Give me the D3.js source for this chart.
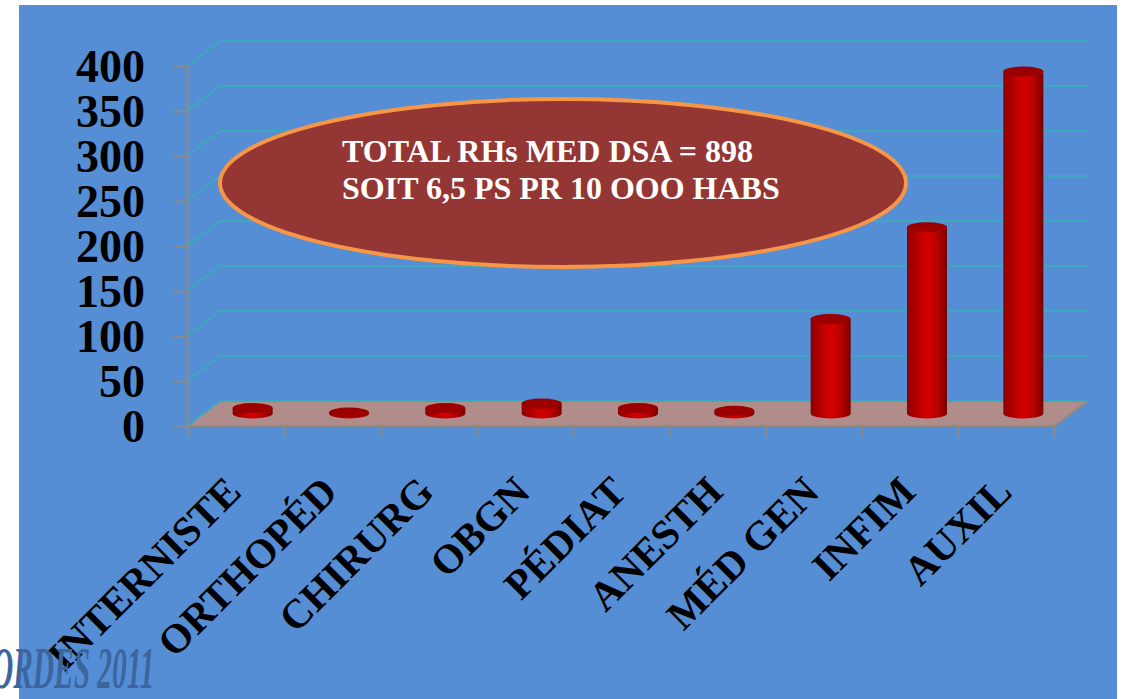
<!DOCTYPE html>
<html><head><meta charset="utf-8">
<script src="https://cdn.jsdelivr.net/npm/d3@7"></script>
<style>html,body{margin:0;padding:0;background:#fff;}svg{display:block;}</style>
</head><body>
<svg id="c" width="1129" height="699"></svg>
<script>
const categories = ["INTERNISTE","ORTHOPÉD","CHIRURG","OBGN","PÉDIAT","ANESTH","MÉD GEN","INFIM","AUXIL"];
const values = [6, 1, 6, 11, 6, 3, 105, 207, 380];
const yTicks = [0, 50, 100, 150, 200, 250, 300, 350, 400];
const noteLines = ["TOTAL RHs MED DSA = 898", "SOIT 6,5 PS PR 10 OOO HABS"];
const footer = "ORDES 2011";

const svg = d3.select("#c");
const W = 1129, H = 699;
const serif = "'Liberation Serif','Times New Roman',serif";
svg.append("rect").attr("x",19).attr("y",5).attr("width",1098).attr("height",H-5).attr("fill","#558ed5");

const x = d3.scaleBand().domain(categories).range([188,1055]).padding(0);
const y = d3.scaleLinear().domain([0,400]).range([426,66]);
const DX = 33, DY = -25;

const defs = svg.append("defs");
const g = defs.append("linearGradient").attr("id","cyl").attr("x1","0").attr("x2","1").attr("y1","0").attr("y2","0");
[[0,"#8c0000"],[0.4,"#cc0000"],[0.55,"#d20000"],[0.8,"#b00000"],[1,"#780000"]].forEach(([o,c])=>g.append("stop").attr("offset",o).attr("stop-color",c));

// floor
const fx0 = x.range()[0], fx1 = x.range()[1], fy = y(0);
svg.append("path").attr("d",`M${fx0},${fy}L${fx0+DX},${fy+DY}L${fx1+DX},${fy+DY}L${fx1},${fy}Z`).attr("fill","#b08c8a");

// gridlines
svg.append("g").selectAll("path").data(yTicks).join("path")
  .attr("d",d=>`M${fx0-1},${y(d)}L${fx0+DX-1},${y(d)+DY}L${fx1+DX},${y(d)+DY}`)
  .attr("fill","none").attr("stroke","#3fa8bf").attr("stroke-width",2);

// floor edges
svg.append("path").attr("d",`M${fx0-1},${fy}L${fx1},${fy}L${fx1+DX},${fy+DY}`).attr("fill","none").attr("stroke","#8a8a8a").attr("stroke-width",2);

// y axis
const yAxis = d3.axisLeft(y).tickValues(yTicks).tickSize(14).tickPadding(28).tickFormat(d3.format("d"));
const ya = svg.append("g").attr("transform",`translate(${fx0-1},0)`).call(yAxis);
ya.select(".domain").attr("stroke","#8a8a8a").attr("stroke-width",2);
ya.selectAll(".tick line").attr("stroke","#8a8a8a").attr("stroke-width",2);
ya.selectAll(".tick text").attr("font-family",serif).attr("font-weight","bold").attr("font-size",46).attr("fill","#000").attr("dy","0.34em");

// x ticks at category boundaries
const bounds = categories.map(c=>x(c)).concat([fx1]);
svg.append("g").selectAll("line").data(bounds).join("line")
  .attr("x1",d=>d).attr("x2",d=>d).attr("y1",fy).attr("y2",fy+11)
  .attr("stroke","#8a8a8a").attr("stroke-width",2);

// x labels
svg.append("g").selectAll("text").data(categories).join("text")
  .attr("transform",d=>`translate(${x(d)+x.bandwidth()/2+7},494) rotate(-45)`)
  .attr("text-anchor","end").attr("font-family",serif).attr("font-weight","bold").attr("font-size",41).attr("fill","#000")
  .text(d=>d);

// cylinders
const rx = 20, ry = 5;
const bars = svg.append("g").selectAll("g").data(categories.map((c,i)=>({c,v:values[i]}))).join("g");
bars.append("path").attr("fill","url(#cyl)").attr("d",d=>{
  const cx = x(d.c)+x.bandwidth()/2 + DX/2;
  const base = y(0)+DY/2, top = y(d.v)+DY/2;
  return `M${cx-rx},${top}L${cx-rx},${base}A${rx},${ry} 0 0 0 ${cx+rx},${base}L${cx+rx},${top}Z`;
});
bars.append("ellipse").attr("fill","#9a0000")
  .attr("cx",d=>x(d.c)+x.bandwidth()/2 + DX/2).attr("cy",d=>y(d.v)+DY/2).attr("rx",rx).attr("ry",ry);

// note ellipse
svg.append("ellipse").attr("cx",563).attr("cy",183).attr("rx",343).attr("ry",84)
  .attr("fill","#943634").attr("stroke","#f79646").attr("stroke-width",4);
svg.append("g").selectAll("text").data(noteLines).join("text")
  .attr("x",342).attr("y",(d,i)=>162+i*37)
  .attr("font-family",serif).attr("font-weight","bold").attr("font-size",32).attr("fill","#fff").text(d=>d);

// footer
svg.append("text").attr("transform","translate(-8,688) scale(0.49,1)")
  .attr("font-family",serif).attr("font-style","italic").attr("font-weight","bold").attr("font-size",60).attr("fill","#3c659e").text(footer);
</script>
</body></html>
